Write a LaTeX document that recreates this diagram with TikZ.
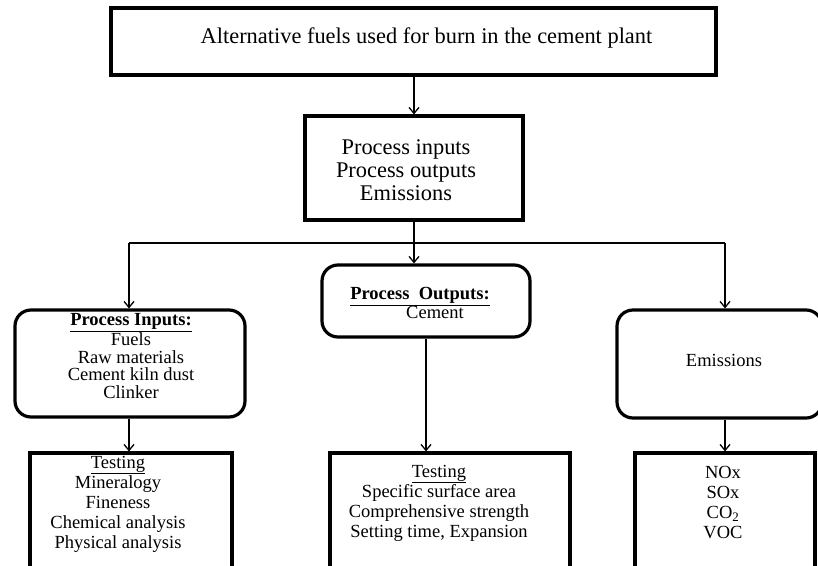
\documentclass[tikz,border=0pt]{standalone}
\usepackage{fontspec}
\setmainfont{Liberation Serif}
\usetikzlibrary{arrows.meta}
\tikzset{
  box/.style={draw, line width=3.2pt, inner sep=0pt},
  rbox/.style={box, rounded corners=16pt},
  lbl/.style={inner sep=0pt, align=center},
  plainline/.style={line width=1.3pt},
  conn/.style={line width=1.3pt, -{Straight Barb[length=6pt,width=10pt]}},
  topfont/.style={font=\fontsize{22.4}{23}\selectfont},
  lowfont/.style={font=\fontsize{18.5}{20}\selectfont},
}
\begin{document}
\begin{tikzpicture}[x=1pt,y=-1pt]
\useasboundingbox (0,0) rectangle (818,565);
\clip (0,0) rectangle (818,565);
% boxes
\node[box, minimum width=605pt, minimum height=67pt] (top) at (413.5,41.5) {};
\node[box, minimum width=218pt, minimum height=104pt] (mid) at (414,168) {};
\node[rbox, minimum width=230pt, minimum height=107pt] (pin) at (130,363.5) {};
\node[rbox, minimum width=208pt, minimum height=72pt] (pout) at (426,301) {};
\node[rbox, minimum width=205pt, minimum height=108pt] (pem) at (719.5,364) {};
\node[box, minimum width=202pt, minimum height=150pt] (tin) at (131,528) {};
\node[box, minimum width=240pt, minimum height=150pt] (tout) at (450,528) {};
\node[box, minimum width=180pt, minimum height=150pt] (tem) at (725,528) {};
% texts
\node[lbl, topfont] (ttop) at (426.5,38) {Alternative fuels used for burn in the cement plant};
\node[lbl, topfont] (tmid) at (406,170) {Process inputs\\Process outputs\\Emissions};
\node[lbl, font=\fontsize{18.5}{17.5}\selectfont] (tpin) at (131,356) {\underline{\textbf{Process Inputs:}}\\Fuels\\Raw materials\\Cement kiln dust\\Clinker};
\node[lbl, font=\fontsize{18.5}{19}\selectfont] (tpout) at (420,303) {\underline{\textbf{Process\ \ Outputs:}}\\\hspace*{30pt}Cement};
\node[lbl, lowfont] (tpem) at (724,360) {Emissions};
\node[lbl, lowfont] (ttin) at (118,504) {\underline{Testing}\\Mineralogy\\Fineness\\Chemical analysis\\Physical analysis};
\node[lbl, lowfont] (ttout) at (439,503) {\underline{Testing}\\Specific surface area\\Comprehensive strength\\Setting time, Expansion};
\node[lbl, lowfont] (ttem) at (723,503) {NOx\\SOx\\CO\textsubscript{2}\\VOC};
% junctions
\coordinate (jc) at (414,243);
\coordinate (jl) at (129,243);
\coordinate (jr) at (725,243);
% connectors
\draw[conn] (top.south -| mid.north) -- (mid.north);
\draw[plainline] (jl) -- (jr);
\draw[conn] (mid.south) -- (mid.south |- pout.north);
\draw[conn] (jl) -- (jl |- pin.north);
\draw[conn] (jr) -- (jr |- pem.north);
\draw[conn] (pin.south -| jl) -- (tin.north -| jl);
\draw[conn] (pout.south) -- (pout.south |- tout.north);
\draw[conn] (pem.south -| jr) -- (tem.north -| jr);
\end{tikzpicture}
\end{document}
